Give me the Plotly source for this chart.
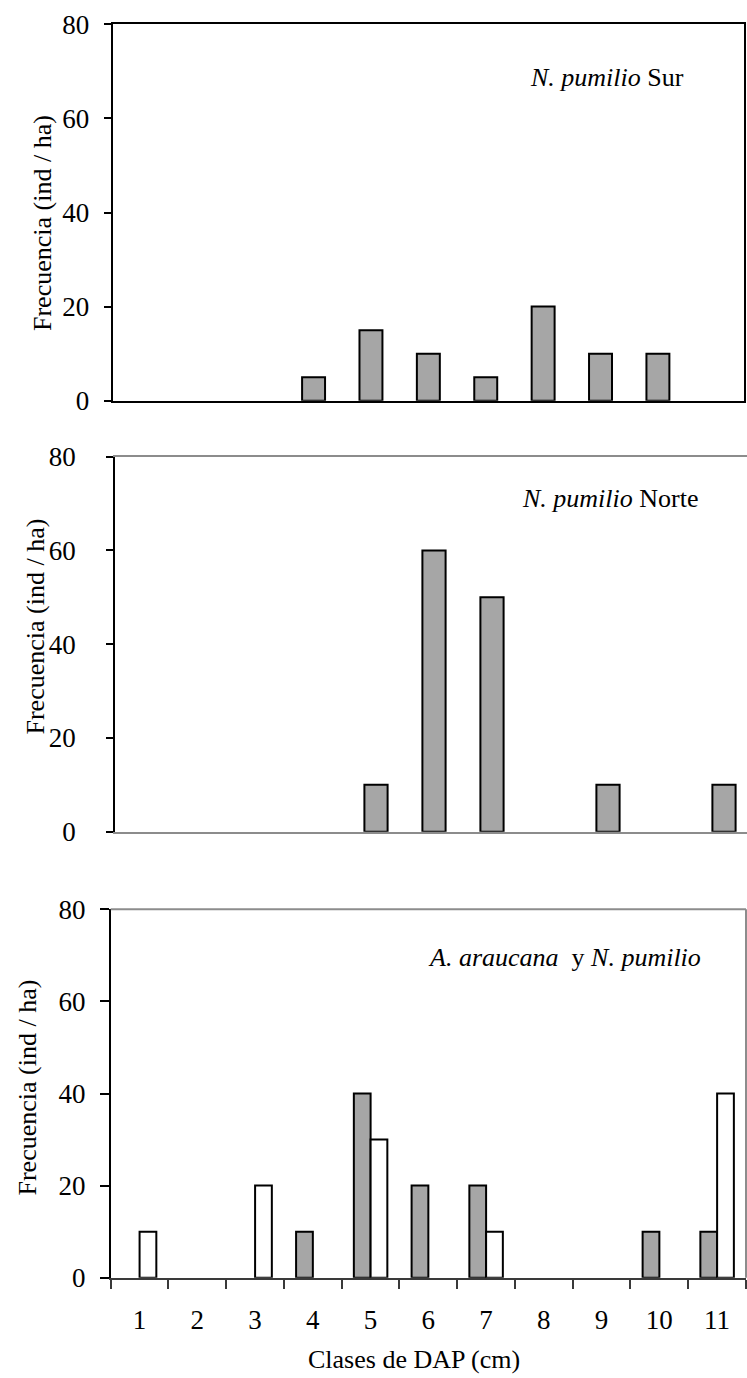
import plotly.graph_objects as go

# ---------------- data ----------------
clases = [1, 2, 3, 4, 5, 6, 7, 8, 9, 10, 11]
clase_labels = ["1", "2", "3", "4", "5", "6", "7", "8", "9", "10", "11"]
y_ticks = [0, 20, 40, 60, 80]

pumilio_sur = [0, 0, 0, 5, 15, 10, 5, 20, 10, 10, 0]
pumilio_norte = [0, 0, 0, 0, 10, 60, 50, 0, 10, 0, 10]
mixto_gris = [0, 0, 0, 10, 40, 20, 20, 0, 0, 10, 10]
mixto_blanco = [10, 0, 20, 0, 30, 0, 10, 0, 0, 0, 40]

titulo_sur = "<i>N. pumilio</i> Sur"
titulo_norte = "<i>N. pumilio</i> Norte"
titulo_mixto = "<i>A. araucana</i>&nbsp; y <i>N. pumilio</i>"
y_title = "Frecuencia (ind / ha)"
x_title = "Clases de DAP (cm)"

# ---------------- layout helpers ----------------
W, H = 747, 1378
FONT = "Liberation Serif"
GRAY_FILL = "#a6a6a6"


def fx(p):
    return p / W


def fy(p):
    return 1 - p / H


def nz(v):
    return [x if x else None for x in v]


fig = go.Figure()

bar_line = dict(color="black", width=2)

fig.add_trace(go.Bar(x=clases, y=nz(pumilio_sur), width=0.4, marker=dict(color=GRAY_FILL, line=bar_line),
                     xaxis="x", yaxis="y"))
fig.add_trace(go.Bar(x=clases, y=nz(pumilio_norte), width=0.4, marker=dict(color=GRAY_FILL, line=bar_line),
                     xaxis="x2", yaxis="y2"))
fig.add_trace(go.Bar(x=clases, y=nz(mixto_gris), width=0.29, offset=-0.29,
                     marker=dict(color=GRAY_FILL, line=bar_line), xaxis="x3", yaxis="y3"))
fig.add_trace(go.Bar(x=clases, y=nz(mixto_blanco), width=0.29, offset=0.0,
                     marker=dict(color="white", line=bar_line), xaxis="x3", yaxis="y3"))

tickfont = dict(family=FONT, size=27, color="black")

common_y = dict(range=[0, 80], tickvals=y_ticks, ticks="outside", tickcolor="black", tickwidth=1.5,
                showgrid=False, zeroline=False, tickfont=tickfont, automargin=False, fixedrange=True)
common_x = dict(range=[0.5, 11.5], showgrid=False, zeroline=False, showticklabels=False, ticks="",
                automargin=False, fixedrange=True)

fig.update_layout(
    width=W, height=H,
    margin=dict(l=0, r=0, t=0, b=0),
    template="none",
    paper_bgcolor="white", plot_bgcolor="white",
    showlegend=False,
    barmode="overlay",
    font=dict(family=FONT, size=26, color="black"),
    # top panel
    xaxis=dict(common_x, domain=[fx(112.7), fx(744)], anchor="y",
               showline=True, linecolor="black", linewidth=2, mirror=True),
    yaxis=dict(common_y, domain=[fy(400.7), fy(24.3)], anchor="x", ticklen=7,
               showline=True, linecolor="black", linewidth=2, mirror=True, ticklabelstandoff=9),
    # middle panel
    xaxis2=dict(common_x, range=[0.5, 0.5 + (W - 115) / 58.0], domain=[fx(115), 1], anchor="y2",
                showline=True, linecolor="#8c8c8c", linewidth=2, mirror=True),
    yaxis2=dict(common_y, domain=[fy(831.7), fy(456.7)], anchor="x2", ticklen=7,
                showline=True, linecolor="black", linewidth=1.5, ticklabelstandoff=25),
    # bottom panel
    xaxis3=dict(common_x, domain=[fx(110.7), fx(746)], anchor="y3",
                showline=True, linecolor="#3a3a3a", linewidth=2,
                showticklabels=True, tickmode="array", tickvals=clases, ticktext=clase_labels,
                tickfont=tickfont, ticklabelstandoff=17,
                minor=dict(tickmode="linear", tick0=0.5, dtick=1, ticks="outside", ticklen=9,
                           tickcolor="#3a3a3a", tickwidth=1.5)),
    yaxis3=dict(common_y, domain=[fy(1277.7), fy(909.3)], anchor="x3", ticklen=9,
                showline=True, linecolor="black", linewidth=1.5, ticklabelstandoff=9),
)

# gray top and right frame lines of the bottom panel
fig.add_shape(type="line", xref="x3 domain", yref="y3 domain", x0=0, x1=1, y0=1, y1=1,
              line=dict(color="#8c8c8c", width=2))
fig.add_shape(type="line", xref="x3 domain", yref="y3 domain", x0=1, x1=1, y0=0, y1=1,
              line=dict(color="#8c8c8c", width=2))

ann_font = dict(family=FONT, size=26, color="black")
annotations = [
    dict(text=titulo_sur, x=fx(528), y=fy(77), xanchor="left", yanchor="middle"),
    dict(text=titulo_norte, x=fx(520), y=fy(498), xanchor="left", yanchor="middle"),
    dict(text=titulo_mixto, x=fx(426), y=fy(957), xanchor="left", yanchor="middle"),
    dict(text=x_title, x=fx(414), y=fy(1359), xanchor="center", yanchor="middle"),
    dict(text=y_title, x=fx(42), y=fy(223), xanchor="center", yanchor="middle", textangle=-90),
    dict(text=y_title, x=fx(34.5), y=fy(627), xanchor="center", yanchor="middle", textangle=-90),
    dict(text=y_title, x=fx(26.5), y=fy(1088), xanchor="center", yanchor="middle", textangle=-90),
]
for a in annotations:
    fig.add_annotation(xref="paper", yref="paper", showarrow=False, font=ann_font, **a)

fig.write_html(
    "out.html",
    config={"displayModeBar": False},
    post_script="document.body.style.margin='0';document.body.style.padding='0';"
                "document.body.style.overflow='hidden';",
)
